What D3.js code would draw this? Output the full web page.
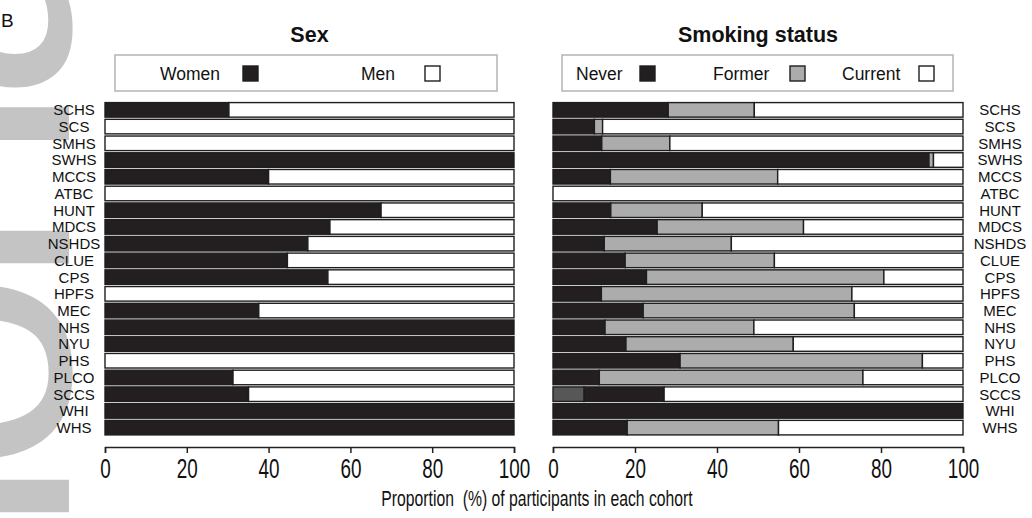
<!DOCTYPE html>
<html>
<head>
<meta charset="utf-8">
<script src="https://cdn.jsdelivr.net/npm/d3@7/dist/d3.min.js"></script>
<style>
  html, body { margin: 0; padding: 0; background: #fff; }
  svg { display: block; }
  text { font-family: "Liberation Sans", Arial, Helvetica, sans-serif; }
</style>
</head>
<body>
<svg id="chart" width="1032" height="518"></svg>
<script>
// Cohorts, top to bottom
const cohorts = ["SCHS","SCS","SMHS","SWHS","MCCS","ATBC","HUNT","MDCS","NSHDS","CLUE",
                 "CPS","HPFS","MEC","NHS","NYU","PHS","PLCO","SCCS","WHI","WHS"];

// Sex: percentage of women (men = remainder)
const women = [30.3, 0, 0, 100, 40.0, 0, 67.5, 55.0, 49.6, 44.6,
               54.5, 0, 37.6, 100, 100, 0, 31.3, 35.1, 100, 100];

// Smoking status percentages
const smokeOther = [0, 0, 0, 0, 0, 0, 0, 0, 0, 0,
                    0, 0, 0, 0, 0, 0, 0, 7.6, 0, 0];
const never   = [28.1, 10.1, 11.9, 91.7, 14.0, 0, 14.1, 25.4, 12.5, 17.6,
                 22.8, 11.8, 22.0, 12.7, 17.8, 31.0, 11.3, 19.5, 100, 18.1];
const former  = [21.0, 2.0, 16.6, 1.1, 40.8, 0, 22.3, 35.7, 31.0, 36.4,
                 57.9, 61.1, 51.5, 36.3, 40.8, 59.1, 64.3, 0, 0, 36.9];
const current = cohorts.map((c, i) => 100 - smokeOther[i] - never[i] - former[i]);

const ticks = [0, 20, 40, 60, 80, 100];

const C = { dark: "#231f20", gray: "#acacac", other: "#575757", white: "#ffffff", edge: "#1e1e1e" };
const NARROW = 0.7;   // horizontal squeeze for the condensed axis lettering

const svg = d3.select("#chart");

// faint watermark lettering running up the left edge
const wm = svg.append("text")
  .attr("font-size", 370)
  .attr("letter-spacing", -20)
  .attr("fill", "#c4c4c4")
  .text("Provisional");
const iOffset = wm.node().getStartPositionOfChar(6).x;  // start of the "ional" part
wm.attr("transform", `translate(69,${537 + iOffset}) rotate(-90)`);

svg.append("text").attr("x", 1).attr("y", 27).attr("font-size", 19).attr("fill", "#111").text("B");

const y = d3.scaleBand().domain(cohorts).range([101.5, 436]).paddingInner(0.13).paddingOuter(0.065);

const xL = d3.scaleLinear().domain([0, 100]).range([105, 514]);
const xR = d3.scaleLinear().domain([0, 100]).range([553, 963]);

function stackRows(seriesList) {
  const out = [];
  cohorts.forEach((c, i) => {
    let acc = 0;
    seriesList.forEach(s => {
      const v = s.values[i];
      if (v > 0) out.push({ cohort: c, key: s.key, fill: s.fill, x0: acc, x1: acc + v });
      acc += v;
    });
  });
  return out;
}

function drawPanel(x, seriesList, title, legendItems, legendBox, labelX) {
  const g = svg.append("g");
  g.selectAll("rect.seg")
    .data(stackRows(seriesList))
    .join("rect")
    .attr("class", "seg")
    .attr("x", d => x(d.x0))
    .attr("width", d => x(d.x1) - x(d.x0))
    .attr("y", d => y(d.cohort))
    .attr("height", y.bandwidth())
    .attr("fill", d => d.fill)
    .attr("stroke", C.edge)
    .attr("stroke-width", 1.4);

  // cohort labels
  g.selectAll("text.lab")
    .data(cohorts)
    .join("text")
    .attr("class", "lab")
    .attr("x", labelX)
    .attr("y", d => y(d) + y.bandwidth() / 2)
    .attr("dy", "0.36em")
    .attr("text-anchor", "middle")
    .attr("font-size", 15)
    .attr("fill", "#111")
    .text(d => d);

  // title
  const [r0, r1] = x.range();
  g.append("text")
    .attr("x", (r0 + r1) / 2)
    .attr("y", 42)
    .attr("text-anchor", "middle")
    .attr("font-size", 21.5)
    .attr("font-weight", "bold")
    .attr("fill", "#111")
    .text(title);

  // legend box
  g.append("rect")
    .attr("x", legendBox[0]).attr("y", 55)
    .attr("width", legendBox[1] - legendBox[0]).attr("height", 36)
    .attr("fill", "#fff").attr("stroke", "#b4b4b4").attr("stroke-width", 1.5);

  legendItems.forEach(it => {
    g.append("text")
      .attr("x", it.tx).attr("y", 80)
      .attr("font-size", 17.5).attr("fill", "#111")
      .text(it.label);
    g.append("rect")
      .attr("x", it.sx).attr("y", 66).attr("width", 15).attr("height", 15)
      .attr("fill", it.fill).attr("stroke", C.edge).attr("stroke-width", 1.4);
  });

  // axis
  const ax = g.append("g")
    .attr("transform", "translate(0,447)")
    .call(d3.axisBottom(x).tickValues(ticks).tickSize(6).tickSizeOuter(6).tickPadding(5));
  ax.select(".domain").attr("stroke", "#222").attr("stroke-width", 1.5);
  ax.selectAll(".tick line").attr("stroke", "#222").attr("stroke-width", 1.5);
  ax.selectAll(".tick text")
    .attr("y", 0).attr("dy", 0)
    .attr("transform", `translate(0,31) scale(${NARROW},1)`)
    .attr("font-family", "'Liberation Sans', Arial, sans-serif")
    .attr("font-size", 27)
    .attr("fill", "#111");
}

drawPanel(xL,
  [{ key: "Women", values: women, fill: C.dark },
   { key: "Men", values: women.map(v => 100 - v), fill: C.white }],
  "Sex",
  [{ label: "Women", tx: 160, sx: 243, fill: C.dark },
   { label: "Men", tx: 361, sx: 425, fill: C.white }],
  [115, 497], 74);

drawPanel(xR,
  [{ key: "Other", values: smokeOther, fill: C.other },
   { key: "Never", values: never, fill: C.dark },
   { key: "Former", values: former, fill: C.gray },
   { key: "Current", values: current, fill: C.white }],
  "Smoking status",
  [{ label: "Never", tx: 576, sx: 640, fill: C.dark },
   { label: "Former", tx: 713, sx: 790, fill: C.gray },
   { label: "Current", tx: 842, sx: 919, fill: C.white }],
  [562, 953], 1000);

svg.append("text")
  .attr("transform", `translate(537,506) scale(${NARROW},1)`)
  .attr("text-anchor", "middle")
  .attr("font-size", 22.5)
  .attr("fill", "#111")
  .style("white-space", "pre")
  .text("Proportion  (%) of participants in each cohort");
</script>
</body>
</html>
